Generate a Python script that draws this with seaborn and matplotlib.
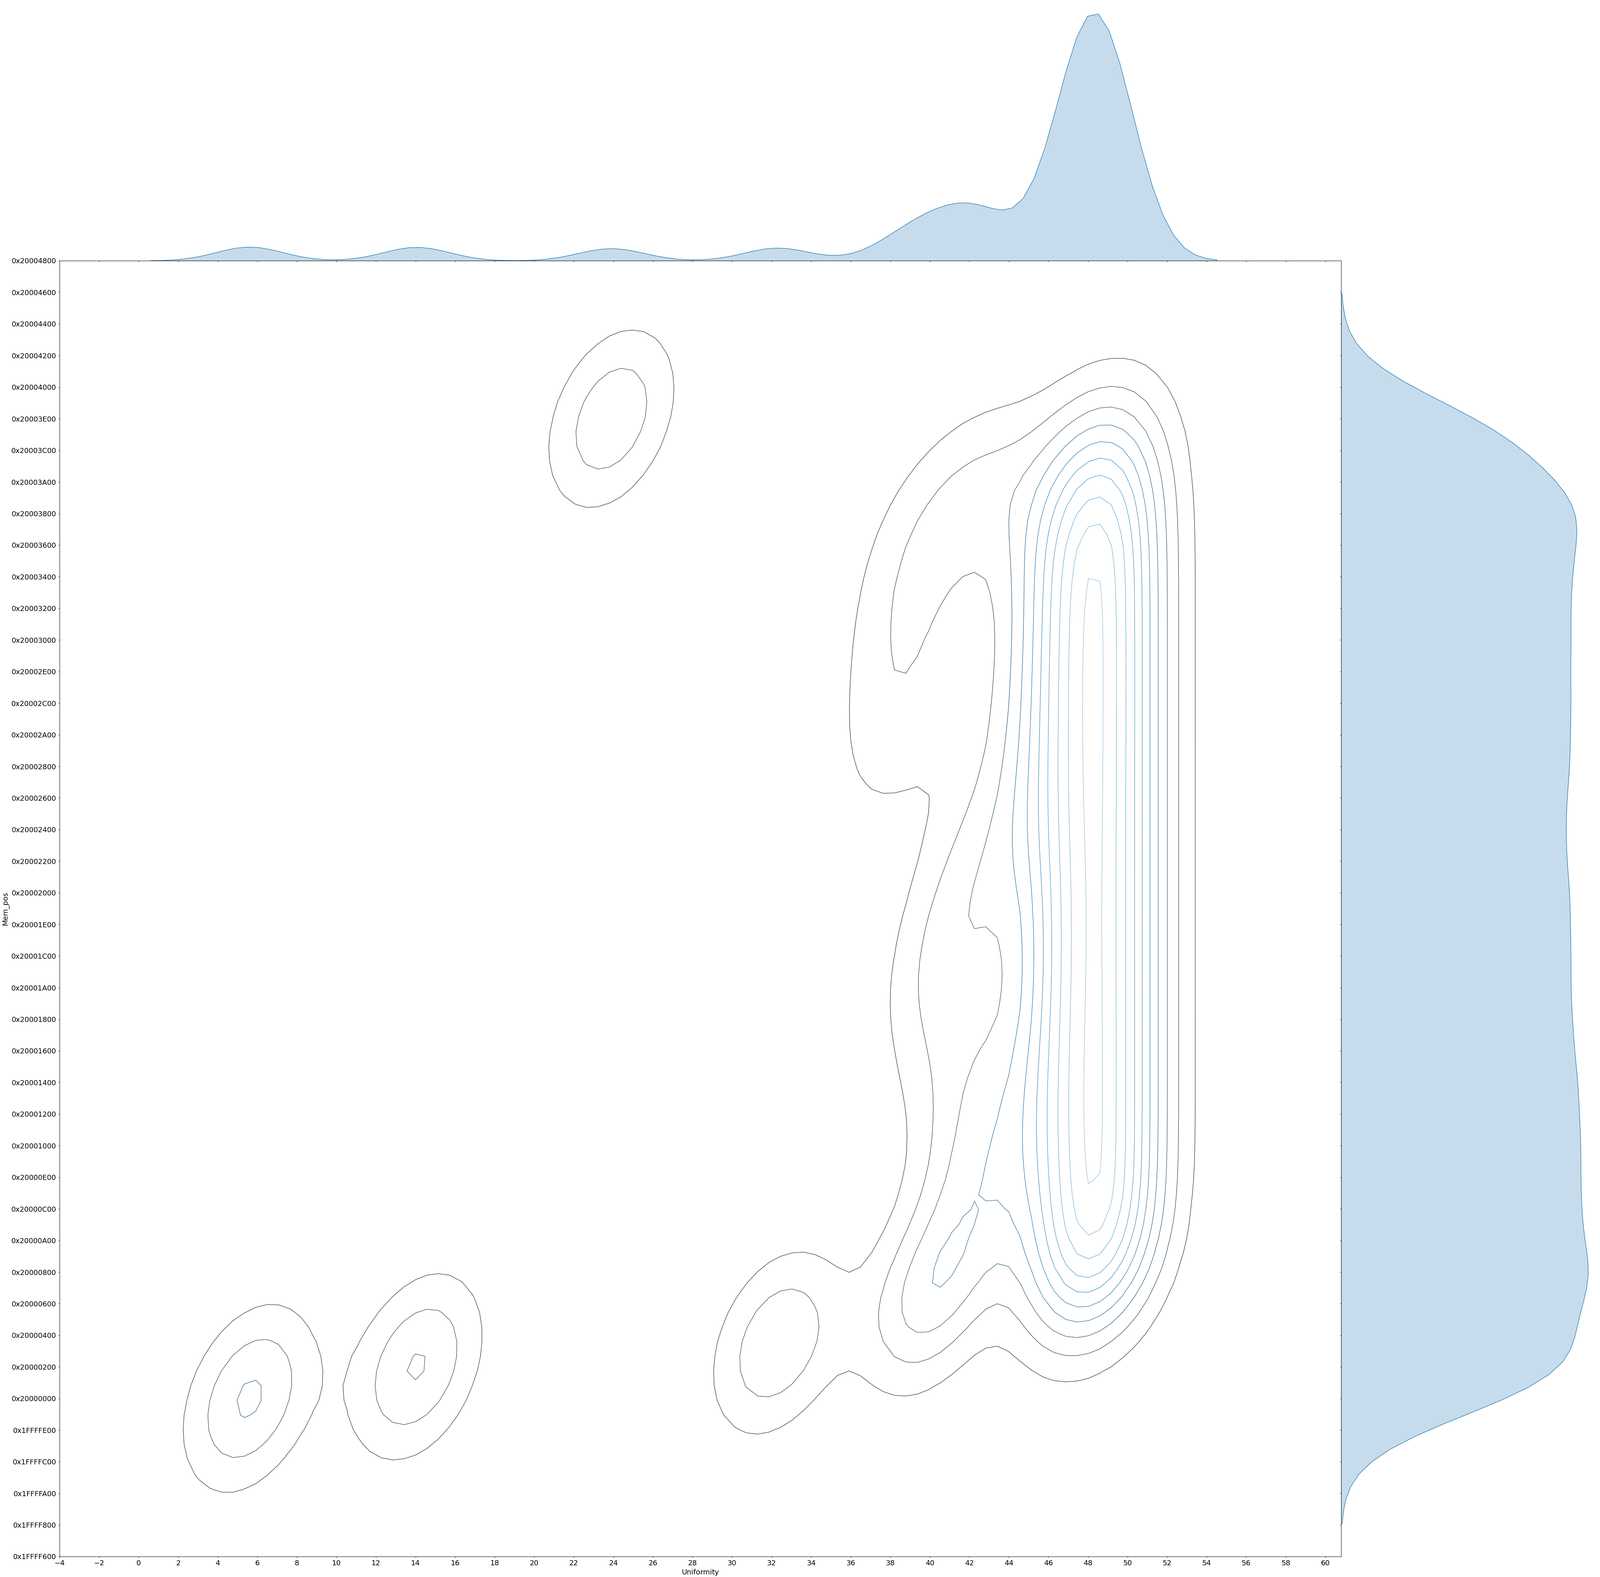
import numpy as np
import pandas as pd
import matplotlib
matplotlib.use("Agg")
import matplotlib.pyplot as plt
from matplotlib.ticker import FuncFormatter, MultipleLocator, MaxNLocator
import seaborn as sns
from seaborn._statistics import KDE

# isolated groups of runs (uniformity, memory position, weight)
GROUP_UNIFORMITY = [5.6, 14.05, 23.9, 32.3]
GROUP_MEM_POS = [0x20000000, 0x20000200, 0x20003E00, 0x20000380]
GROUP_WEIGHT = [0.95, 0.93, 0.84, 0.88]

# dense band around uniformity 48: three sub-columns, one weight per address row
BAND_UNIFORMITY = [47.2, 48.4, 49.5]
BAND_SHARE = [0.3, 0.45, 0.25]
BAND_MEM_POS = [0x20000800, 0x20000C00, 0x20001000, 0x20001400, 0x20001800,
                0x20001C00, 0x20002000, 0x20002400, 0x20002800, 0x20002C00,
                0x20003000, 0x20003400, 0x20003800, 0x20003C00]
BAND_ROW_WEIGHT = [1.42, 1.42, 1.42, 1.42, 1.42, 1.42, 1.42,
                   1.42, 1.42, 1.42, 1.42, 1.42, 1.42, 0.8]

# shoulder between uniformity 37 and 45
SHOULDER_UNIFORMITY = [39.6, 40.8, 42.3, 42.5, 42.3, 41.0, 40.8, 42.0, 43.0,
                       38.0, 43.5, 38.2, 44.0, 38.8, 44.0, 39.0, 44.0, 39.8, 44.0, 42.6]
SHOULDER_MEM_POS = [0x200005C0, 0x20000800, 0x20000C00, 0x20001000, 0x20001400,
                    0x20001800, 0x20001C00, 0x20002000, 0x20002400,
                    0x20002800, 0x20002800, 0x20002C00, 0x20002C00, 0x20003000,
                    0x20003000, 0x20003400, 0x20003400, 0x20003800, 0x20003800,
                    0x20003A00]
SHOULDER_WEIGHT = [0.68, 0.38, 0.44, 0.44, 0.42, 0.36, 0.36, 0.36, 0.3,
                   0.22, 0.14, 0.22, 0.14, 0.28, 0.08, 0.28, 0.08, 0.22, 0.14, 0.42]

W, H = 4376, 4313
# dark grey to blue, as in the original contour colours
CONTOUR_COLORS = ["#333333", "#3787c0", "#abd0e6"]


def build_frame():
    xs = list(GROUP_UNIFORMITY) + list(SHOULDER_UNIFORMITY)
    ys = list(GROUP_MEM_POS) + list(SHOULDER_MEM_POS)
    ws = list(GROUP_WEIGHT) + list(SHOULDER_WEIGHT)
    for bx, share in zip(BAND_UNIFORMITY, BAND_SHARE):
        for pos, rw in zip(BAND_MEM_POS, BAND_ROW_WEIGHT):
            xs.append(bx)
            ys.append(pos)
            ws.append(rw * share)
    return pd.DataFrame({"Uniformity": xs, "Mem_pos": np.array(ys, dtype=float), "w": ws})


def spread(df, col):
    return np.sqrt(np.cov(df[col].values, aweights=df["w"].values))


def grid_cut(df, col):
    # seaborn sizes the grid from the unweighted spread; stretch it so the
    # curves run three (weighted) bandwidths past the data, as in the original
    return 3 * spread(df, col) / df[col].std()


def linear_levels(df, bw, gridsize, cut):
    # evenly spaced density levels (matplotlib's automatic choice),
    # expressed as the iso-proportions seaborn expects
    est = KDE(bw_method=bw, gridsize=gridsize, cut=cut)
    dens, _ = est(df["Uniformity"].values, df["Mem_pos"].values, weights=df["w"].values)
    lev = MaxNLocator(11, min_n_ticks=1).tick_values(dens.min(), dens.max())
    top = lev.max()
    lev = lev[(lev > dens.min()) & (lev < dens.max())]
    vals = np.sort(dens.ravel())[::-1]
    cum = np.cumsum(vals) / vals.sum()
    props = []
    for L in lev:
        k = np.searchsorted(-vals, -L, side="right") - 1
        props.append(1 - cum[k])
    cmap = sns.blend_palette(CONTOUR_COLORS, as_cmap=True)
    colors = [cmap(L / top) for L in lev]
    return props, colors


def main():
    df = build_frame()

    bw_joint = 2.2 / spread(df, "Uniformity")
    bw_marg_x = 1.67 / spread(df, "Uniformity")
    bw_marg_y = 1.32 * 0x200 / spread(df, "Mem_pos")
    cut_x = grid_cut(df, "Uniformity")
    cut_y = grid_cut(df, "Mem_pos")
    cut_joint = max(cut_x, cut_y)

    props, colors = linear_levels(df, bw_joint, 100, cut_joint)

    g = sns.JointGrid(data=df, x="Uniformity", y="Mem_pos", height=43, ratio=5, space=0)

    sns.kdeplot(data=df, x="Uniformity", y="Mem_pos", weights="w", bw_method=bw_joint,
                gridsize=100, cut=cut_joint, levels=props, colors=colors,
                linewidths=1.0, ax=g.ax_joint)
    sns.kdeplot(data=df, x="Uniformity", weights="w", bw_method=bw_marg_x, gridsize=100,
                cut=cut_x, fill=True, linewidth=1.0, ax=g.ax_marg_x)
    sns.kdeplot(data=df, y="Mem_pos", weights="w", bw_method=bw_marg_y, gridsize=100,
                cut=cut_y, fill=True, linewidth=1.0, ax=g.ax_marg_y)

    fig = g.figure
    fig.set_size_inches(W / 100, H / 100)
    g.ax_joint.set_position([163 / W, 56 / H, 3505 / W, 3544 / H])
    g.ax_marg_x.set_position([163 / W, (H - 713) / H, 3505 / W, 709 / H])
    g.ax_marg_y.set_position([3668 / W, 56 / H, 709 / W, 3544 / H])

    ax = g.ax_joint
    ax.set_xlim(-4, 60.8)
    ax.set_ylim(0x1FFFF600, 0x20004800)
    ax.xaxis.set_major_locator(MultipleLocator(2))
    ax.yaxis.set_major_locator(MultipleLocator(0x200))
    ax.yaxis.set_major_formatter(FuncFormatter(lambda v, p: "0x%08X" % int(round(v))))
    ax.tick_params(labelsize=14, length=2.5, width=0.8, pad=4)
    g.ax_marg_x.tick_params(length=2.5, width=0.8)
    g.ax_marg_y.tick_params(length=2.5, width=0.8)
    g.ax_marg_x.yaxis.offsetText.set_visible(False)
    g.ax_marg_y.xaxis.offsetText.set_visible(False)
    ax.set_xlabel("Uniformity", fontsize=14)
    ax.set_ylabel("Mem_pos", fontsize=14)
    for a in (ax, g.ax_marg_x, g.ax_marg_y):
        for s in a.spines.values():
            s.set_linewidth(0.8)

    fig.savefig("out.png", dpi=100)
    plt.close(fig)


if __name__ == "__main__":
    main()
